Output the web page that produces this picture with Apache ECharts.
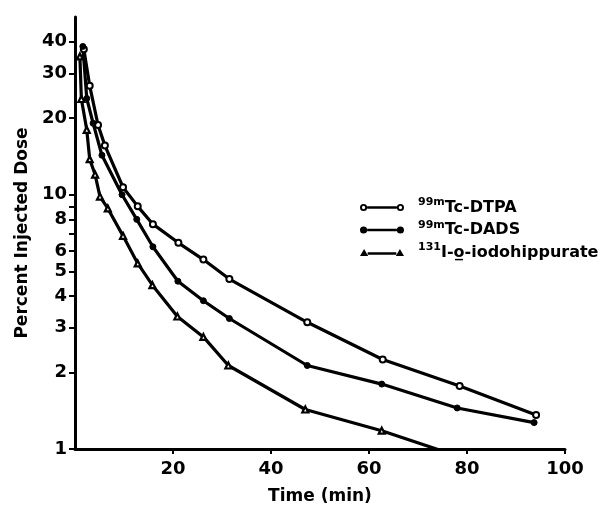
<!DOCTYPE html>
<html>
<head>
<meta charset="utf-8">
<script src="https://cdn.jsdelivr.net/npm/echarts@6/dist/echarts.min.js"></script>
<style>
html,body{margin:0;padding:0;background:#fff;}
#chart{width:605px;height:510px;}
</style>
</head>
<body>
<div id="chart"></div>
<script>
// ---- data ----
const seriesNames = ['99mTc-DTPA', '99mTc-DADS', '131I-o-iodohippurate'];
const dtpaTime = [1.8, 3.0, 4.7, 6.1, 9.8, 12.8, 15.9, 21.1, 26.2, 31.5, 47.4, 62.8, 78.5, 94.1];
const dtpaDose = [37.3, 26.8, 18.8, 15.6, 10.7, 9.0, 7.66, 6.47, 5.56, 4.66, 3.15, 2.25, 1.77, 1.36];
const dadsTime = [1.6, 2.4, 3.7, 5.5, 9.6, 12.6, 15.9, 21.0, 26.2, 31.5, 47.4, 62.6, 78.0, 93.7];
const dadsDose = [38.3, 23.9, 19.1, 14.3, 10.0, 8.0, 6.24, 4.57, 3.83, 3.26, 2.13, 1.80, 1.45, 1.27];
const hipTime = [1.0, 1.3, 2.4, 3.0, 4.1, 5.1, 6.7, 9.8, 12.8, 15.8, 20.9, 26.2, 31.3, 47.0, 62.6, 78.3];
const hipDose = [35.0, 23.8, 18.0, 13.8, 12.0, 9.83, 8.83, 6.89, 5.37, 4.41, 3.32, 2.76, 2.13, 1.43, 1.18, 0.935];
const yTickValues = [1, 2, 3, 4, 5, 6, 7, 8, 9, 10, 20, 30, 40];
const yLabelValues = [1, 2, 3, 4, 5, 6, 8, 10, 20, 30, 40];
const xTickLabels = [20, 40, 60, 80, 100];

function pairs(xs, ys) { return xs.map((x, i) => [x, ys[i]]); }

const FONT = 'DejaVu Sans';
const openCirclePath = 'path://M0.5,4 a3.5,3.5 0 1,0 7,0 a3.5,3.5 0 1,0 -7,0 Z M2.4,4 a1.6,1.6 0 1,1 3.2,0 a1.6,1.6 0 1,1 -3.2,0 Z M7.5,2.7 H36.5 V5.3 H7.5 Z M36.5,4 a3.5,3.5 0 1,0 7,0 a3.5,3.5 0 1,0 -7,0 Z M38.4,4 a1.6,1.6 0 1,1 3.2,0 a1.6,1.6 0 1,1 -3.2,0 Z';
const filledCirclePath = 'path://M0.5,4 a3.5,3.5 0 1,0 7,0 a3.5,3.5 0 1,0 -7,0 Z M7.5,2.7 H36.5 V5.3 H7.5 Z M36.5,4 a3.5,3.5 0 1,0 7,0 a3.5,3.5 0 1,0 -7,0 Z';
const trianglePath = 'path://M0.5,7.5 L4.5,0.5 L8.5,7.5 Z M3.5,5.8 L4.5,4.2 L5.5,5.8 Z M8,3.7 H36 V6.3 H8 Z M35.5,7.5 L39.5,0.5 L43.5,7.5 Z M38.5,5.8 L39.5,4.2 L40.5,5.8 Z';

const chart = echarts.init(document.getElementById('chart'), null, {renderer: 'canvas'});

const baseSeries = {
  type: 'line',
  lineStyle: {color: '#000', width: 3.2},
  symbolSize: 6,
  z: 3,
  clip: true,
  animation: false
};

const option = {
  animation: false,
  backgroundColor: '#fff',
  textStyle: {fontFamily: FONT, color: '#000'},
  grid: {left: 75, right: 40, top: 17, bottom: 53, containLabel: false},
  legend: {
    orient: 'vertical',
    left: 355,
    top: 192,
    itemWidth: 44,
    itemHeight: 8,
    itemGap: 4,
    data: [
      {name: seriesNames[0], icon: openCirclePath, itemStyle: {color: '#000', borderWidth: 0}},
      {name: seriesNames[1], icon: filledCirclePath, itemStyle: {color: '#000', borderWidth: 0}},
      {name: seriesNames[2], icon: trianglePath, itemStyle: {color: '#000', borderWidth: 0}}
    ],
    formatter: function (name) {
      if (name === seriesNames[0]) return '{sup|99m}{main|Tc-DTPA}';
      if (name === seriesNames[1]) return '{sup|99m}{main|Tc-DADS}';
      return '{sup|131}{main|I-o\u0332-iodohippurate}';
    },
    textStyle: {
      fontFamily: FONT,
      color: '#000',
      rich: {
        sup: {fontSize: 11, fontWeight: 'bold', fontFamily: FONT, color: '#000', verticalAlign: 'top', lineHeight: 21, padding: [0, 0, 0, 9]},
        main: {fontSize: 16, fontWeight: 'bold', fontFamily: FONT, color: '#000', lineHeight: 21}
      }
    }
  },
  xAxis: {
    type: 'value',
    min: 0,
    max: 100,
    interval: 20,
    name: 'Time (min)',
    nameLocation: 'middle',
    nameGap: 39,
    nameTextStyle: {fontFamily: FONT, fontWeight: 'bold', fontSize: 17, color: '#000'},
    axisLine: {show: true, lineStyle: {color: '#000', width: 3}},
    axisTick: {show: true, length: 5, lineStyle: {color: '#000', width: 2}},
    axisLabel: {
      showMinLabel: false,
      margin: 11,
      fontFamily: FONT, fontWeight: 'bold', fontSize: 18, color: '#000',
      formatter: function (v) { return xTickLabels.indexOf(v) >= 0 ? String(v) : ''; }
    },
    splitLine: {show: false}
  },
  yAxis: {
    type: 'log',
    logBase: 10,
    min: 1,
    max: 50,
    name: 'Percent Injected Dose',
    nameLocation: 'middle',
    nameRotate: 90,
    nameGap: 42,
    nameTextStyle: {fontFamily: FONT, fontWeight: 'bold', fontSize: 17, color: '#000'},
    axisLine: {show: true, lineStyle: {color: '#000', width: 3}},
    axisTick: {show: true, length: 6, customValues: yTickValues, lineStyle: {color: '#000', width: 2}},
    minorTick: {show: false},
    axisLabel: {
      customValues: yLabelValues,
      margin: 8,
      fontFamily: FONT, fontWeight: 'bold', fontSize: 18, color: '#000',
      formatter: function (v) { return String(Math.round(v)); }
    },
    splitLine: {show: false}
  },
  series: [
    Object.assign({}, baseSeries, {
      name: seriesNames[0],
      symbol: 'circle',
      itemStyle: {color: '#fff', borderColor: '#000', borderWidth: 2},
      data: pairs(dtpaTime, dtpaDose)
    }),
    Object.assign({}, baseSeries, {
      name: seriesNames[1],
      symbol: 'circle',
      itemStyle: {color: '#000', borderColor: '#000', borderWidth: 1},
      data: pairs(dadsTime, dadsDose)
    }),
    Object.assign({}, baseSeries, {
      name: seriesNames[2],
      symbol: 'triangle',
      symbolSize: 6,
      itemStyle: {color: '#fff', borderColor: '#000', borderWidth: 2.2},
      data: pairs(hipTime, hipDose)
    })
  ]
};

chart.setOption(option);
</script>
</body>
</html>
